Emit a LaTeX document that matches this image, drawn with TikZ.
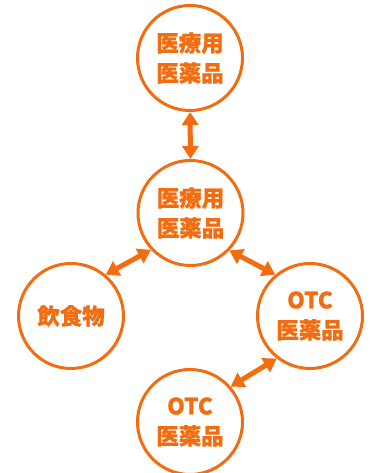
\documentclass[tikz,border=0pt]{standalone}
\usepackage{fontspec}
\newfontfamily\cjk[FakeBold=0.8]{Noto Sans CJK JP}
\usetikzlibrary{arrows.meta}
\definecolor{org}{RGB}{242,108,16}
\tikzset{
  bubble/.style={circle, draw=org, line width=3pt, fill=white, minimum size=105pt, inner sep=0pt,
    text=org, align=center, font=\cjk\bfseries\fontsize{22.5}{30}\selectfont},
  link/.style={draw=org, line width=5pt, {Triangle[width=16pt,length=13pt]}-{Triangle[width=16pt,length=13pt]}}
}
\begin{document}
\begin{tikzpicture}[x=1pt,y=1pt]
\useasboundingbox (0,0) rectangle (375,473);
\node[bubble] (top) at (190,415) {医療用\\医薬品};
\node[bubble] (mid) at (190.5,260) {医療用\\医薬品};
\node[bubble] (left) at (71,157) {飲食物};
\node[bubble] (right) at (310,157) {OTC\\医薬品};
\node[bubble] (bottom) at (190,51) {OTC\\医薬品};
\draw[link] (top.south) -- (mid.north);
\draw[link] (mid.223) -- (left.50);
\draw[link] (mid.316) -- (right.130);
\draw[link] (right.232) -- (bottom.41);
\end{tikzpicture}
\end{document}
